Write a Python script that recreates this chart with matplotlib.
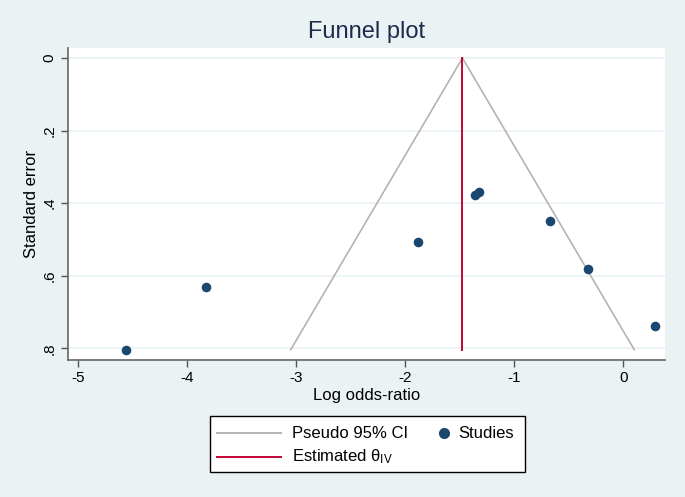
import numpy as np
import matplotlib
matplotlib.use("Agg")
import matplotlib.pyplot as plt
from matplotlib.patches import Rectangle
from matplotlib.lines import Line2D

plt.rcParams['font.family'] = ['Liberation Sans', 'DejaVu Sans']
plt.rcParams['mathtext.fontset'] = 'custom'
plt.rcParams['mathtext.rm'] = 'Liberation Sans'
plt.rcParams['mathtext.it'] = 'Liberation Sans'

# --- data ---
log_or = [-4.56, -3.83, -1.88, -1.36, -1.32, -0.67, -0.32, 0.29]
std_err = [0.804, 0.631, 0.508, 0.378, 0.369, 0.450, 0.581, 0.739]
theta_iv = -1.475
x_ticks = [-5, -4, -3, -2, -1, 0]
y_ticks = [0, 0.2, 0.4, 0.6, 0.8]
y_ticklabels = ['0', '.2', '.4', '.6', '.8']

bg = '#eaf2f3'
navy = '#1a476f'
cranberry = '#c10534'
ci_gray = '#b4b4b4'

W, H = 685, 497
fig = plt.figure(figsize=(6.85, 4.97), dpi=100, facecolor=bg)
ax = fig.add_axes([68 / W, 1 - 359.5 / H, (665 - 68) / W, (359.5 - 48) / H])
ax.set_facecolor('white')

# pseudo 95% confidence limits
se_max = max(std_err)
se_line = np.array([0, se_max])
ax.plot(theta_iv - 1.96 * se_line, se_line, color=ci_gray, lw=1.2, zorder=2)
ax.plot(theta_iv + 1.96 * se_line, se_line, color=ci_gray, lw=1.2, zorder=2)

ax.plot([theta_iv, theta_iv], [0, se_max], color=cranberry, lw=1.4, zorder=3)
ax.scatter(log_or, std_err, s=48, color=navy, zorder=4, linewidths=0)

ax.set_xlim(-5.094, 0.383)
ax.set_ylim(0.831, -0.0276)
ax.set_xticks(x_ticks)
ax.set_xticklabels([str(v) for v in x_ticks])
ax.set_yticks(y_ticks)
ax.set_yticklabels(y_ticklabels, rotation=90, va='center')
ax.tick_params(labelsize=11, length=5, color='#555555', width=1)
ax.grid(axis='y', color='#eaf2f3', lw=1.2, zorder=0)
ax.set_axisbelow(True)

for side in ['top', 'right']:
    ax.spines[side].set_visible(False)
for side in ['left', 'bottom']:
    ax.spines[side].set_color('#666666')
    ax.spines[side].set_linewidth(1.2)

ax.set_xlabel('Log odds-ratio', fontsize=12, labelpad=2)
ax.set_ylabel('Standard error', fontsize=12, labelpad=2)
fig.text(0.535, 0.935, 'Funnel plot', ha='center', va='center', fontsize=17, color='#1e2b4d')

# legend box drawn by hand (Stata style: short marker key, long line keys)
def fx(px):
    return px / W

def fy(py):
    return 1 - py / H

fig.add_artist(Rectangle((fx(210), fy(472)), fx(525) - fx(210), fy(416) - fy(472),
                         transform=fig.transFigure, facecolor='white',
                         edgecolor='black', lw=1.0))
row1, row2 = 433, 457
fig.add_artist(Line2D([fx(217), fx(281)], [fy(row1), fy(row1)], color=ci_gray, lw=1.4,
                      transform=fig.transFigure))
fig.text(fx(292), fy(row1), 'Pseudo 95% CI', fontsize=12, va='center', ha='left')
fig.add_artist(Line2D([fx(444)], [fy(row1)], marker='o', ms=7, color=navy, mec=navy,
                      ls='none', transform=fig.transFigure))
fig.text(fx(458), fy(row1), 'Studies', fontsize=12, va='center', ha='left')
fig.add_artist(Line2D([fx(217), fx(281)], [fy(row2), fy(row2)], color=cranberry, lw=1.4,
                      transform=fig.transFigure))
fig.text(fx(292), fy(row2), r'Estimated $\theta_{\mathrm{IV}}$', fontsize=12,
         va='center', ha='left')

fig.savefig('out.png', dpi=100, facecolor=bg)
